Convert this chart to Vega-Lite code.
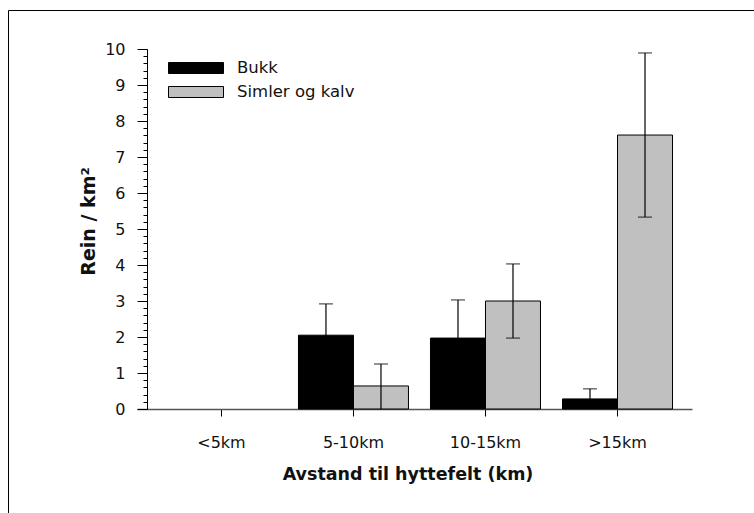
{
  "$schema": "https://vega.github.io/schema/vega-lite/v6.json",
  "width": 748,
  "height": 505,
  "autosize": {"type": "none"},
  "padding": {"left": 8, "top": 10, "right": -2, "bottom": -2},
  "background": "white",
  "view": {"stroke": "#000000", "strokeWidth": 1},
  "config": {
    "font": "DejaVu Sans",
    "axis": {"labelFont": "DejaVu Sans", "titleFont": "DejaVu Sans", "labelColor": "#111", "titleColor": "#111", "grid": false},
    "legend": {"labelFont": "DejaVu Sans"}
  },
  "data": {
    "values": [
      {"avstand": "<5km", "serie": "Bukk", "verdi": 0},
      {"avstand": "<5km", "serie": "Simler og kalv", "verdi": 0},
      {"avstand": "5-10km", "serie": "Bukk", "verdi": 2.05, "lo": 1.18, "hi": 2.92},
      {"avstand": "5-10km", "serie": "Simler og kalv", "verdi": 0.64, "lo": 0, "hi": 1.25},
      {"avstand": "10-15km", "serie": "Bukk", "verdi": 1.97, "lo": 0.91, "hi": 3.03},
      {"avstand": "10-15km", "serie": "Simler og kalv", "verdi": 3.0, "lo": 1.97, "hi": 4.03},
      {"avstand": ">15km", "serie": "Bukk", "verdi": 0.28, "lo": 0.0, "hi": 0.56},
      {"avstand": ">15km", "serie": "Simler og kalv", "verdi": 7.61, "lo": 5.33, "hi": 9.89}
    ]
  },
  "encoding": {
    "x": {
      "field": "avstand", "type": "nominal",
      "scale": {"domain": ["<5km", "5-10km", "10-15km", ">15km"], "range": [129, 684], "paddingInner": 0, "paddingOuter": 0.102, "align": 0.685},
      "axis": {
        "orient": "bottom", "offset": -106, "labelAngle": 0, "labelFontSize": 16, "labelPadding": 18,
        "tickSize": 7, "tickColor": "#000", "domainColor": "#555", "domainWidth": 1.5,
        "title": "Avstand til hyttefelt (km)", "titleFontSize": 17.5, "titleFontWeight": "bold",
        "titleX": 399.5, "titleY": 70, "titleBaseline": "alphabetic", "titleAnchor": "middle", "titleAlign": "center"
      }
    },
    "xOffset": {
      "field": "serie", "type": "nominal",
      "scale": {"domain": ["Bukk", "Simler og kalv"], "paddingInner": 0, "paddingOuter": 0.2}
    }
  },
  "layer": [
    {
      "transform": [{"filter": "datum.verdi > 0"}],
      "mark": {"type": "bar", "stroke": "#000000", "strokeWidth": 1},
      "encoding": {
        "y": {
          "field": "verdi", "type": "quantitative",
          "scale": {"domain": [0, 10], "range": [399, 39], "nice": false, "zero": true},
          "axis": {
            "orient": "left", "offset": -139, "values": [0, 1, 2, 3, 4, 5, 6, 7, 8, 9, 10],
            "labelFontSize": 16, "labelPadding": 12, "tickSize": 10, "tickColor": "#000", "domainColor": "#000",
            "title": "Rein / km²", "titleFontSize": 19, "titleFontWeight": "bold",
            "titleAngle": -90, "titleX": -59, "titleY": 211, "titleBaseline": "middle", "titleAlign": "center", "titleAnchor": "middle"
          }
        },
        "color": {
          "field": "serie", "type": "nominal",
          "scale": {"domain": ["Bukk", "Simler og kalv"], "range": ["#000000", "#c0c0c0"]},
          "legend": {
            "title": null, "orient": "none", "legendX": 175.5, "legendY": 45.5, "padding": 0,
            "symbolType": "M-2.2917,-0.4583H2.2917V0.4583H-2.2917Z", "symbolSize": 576, "symbolStrokeColor": "#000", "symbolStrokeWidth": 1,
            "symbolOpacity": 1, "labelFontSize": 16.5, "labelOffset": 28.5, "rowPadding": 3, "labelColor": "#111"
          }
        }
      }
    },
    {
      "transform": [{"filter": "isValid(datum.hi)"}],
      "mark": {"type": "rule", "color": "#000000", "strokeWidth": 1.2},
      "encoding": {
        "y": {
          "field": "lo", "type": "quantitative",
          "scale": {"domain": [0, 10], "range": [399, 39], "nice": false, "zero": true},
          "axis": {
            "orient": "left", "offset": -139, "title": null, "labels": false, "domain": false, "tickSize": 4, "tickColor": "#000",
            "values": [0, 0.2, 0.4, 0.6, 0.8, 1, 1.2, 1.4, 1.6, 1.8, 2, 2.2, 2.4, 2.6, 2.8, 3, 3.2, 3.4, 3.6, 3.8, 4, 4.2, 4.4, 4.6, 4.8, 5, 5.2, 5.4, 5.6, 5.8, 6, 6.2, 6.4, 6.6, 6.8, 7, 7.2, 7.4, 7.6, 7.8, 8, 8.2, 8.4, 8.6, 8.8, 9, 9.2, 9.4, 9.6, 9.8, 10]
          }
        },
        "y2": {"field": "hi"}
      }
    },
    {
      "transform": [{"filter": "isValid(datum.hi)"}],
      "mark": {"type": "tick", "color": "#000000", "size": 14, "thickness": 1.2, "orient": "horizontal"},
      "encoding": {"y": {"field": "hi", "type": "quantitative", "scale": {"domain": [0, 10], "range": [399, 39], "nice": false, "zero": true}, "axis": null}}
    },
    {
      "transform": [{"filter": "isValid(datum.hi) && datum.lo > 0"}],
      "mark": {"type": "tick", "color": "#000000", "size": 14, "thickness": 1.2, "orient": "horizontal"},
      "encoding": {"y": {"field": "lo", "type": "quantitative", "scale": {"domain": [0, 10], "range": [399, 39], "nice": false, "zero": true}, "axis": null}}
    }
  ],
  "resolve": {"scale": {"y": "independent"}, "axis": {"y": "independent"}}
}
